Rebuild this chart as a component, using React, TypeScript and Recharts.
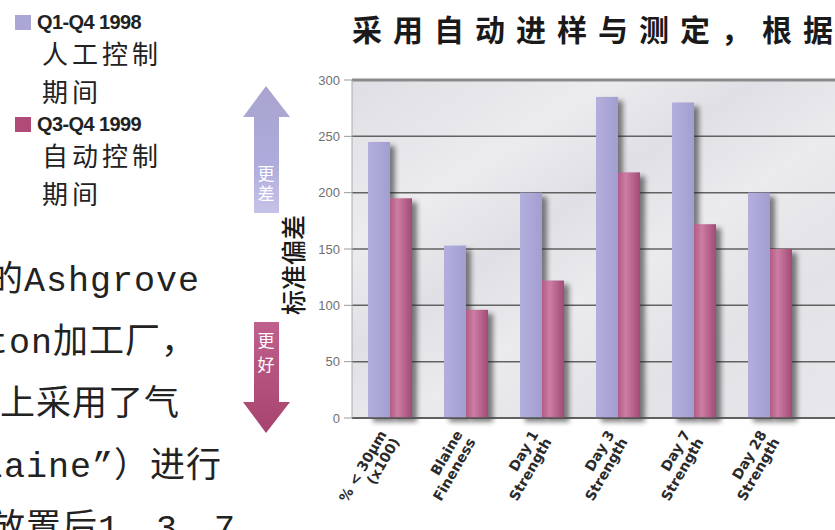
import React from 'react';
import { BarChart, Bar, XAxis, YAxis, CartesianGrid, ReferenceLine } from 'recharts';

// 类别与两组数值
const categories = [
    '% < 30µm\n(x100)',
    'Blaine\nFineness',
    'Day 1\nStrength',
    'Day 3\nStrength',
    'Day 7\nStrength',
    'Day 28\nStrength',
];
const manual1998 = [245, 153, 200, 285, 280, 200];
const auto1999 = [195, 96, 122, 218, 172, 150];
const yTicks = [0, 50, 100, 150, 200, 250, 300];

const legendItems = [
    { key: 'Q1-Q4 1998', lines: ['人工控制', '期间'], color: '#aaa6d6' },
    { key: 'Q3-Q4 1999', lines: ['自动控制', '期间'], color: '#b04a76' },
];

const bodyLines = ['的Ashgrove', 'ton加工厂，', '上采用了气', 'laine”）进行', '放置后1、3、7'];
const bodyOffsets = [-12, -13, 0, -18, -10];

const data = categories.map((name, i) => ({
    name,
    manual: manual1998[i],
    auto: auto1999[i],
}));

const ShadowBar = (props: any) => {
    const { x, y, width, height, fill } = props;
    if (!height || height <= 0) return null;
    return (
        <g>
            <rect
                x={x + 5}
                y={y + 4}
                width={width}
                height={height}
                fill="#1c1c1c"
                opacity={0.55}
                filter="url(#barShadow)"
            />
            <rect x={x} y={y} width={width} height={height} fill={fill} />
        </g>
    );
};

const CategoryTick = (props: any) => {
    const { x, y, payload } = props;
    const [l1, l2] = String(payload.value).split('\n');
    return (
        <g transform={`translate(${x - 3},${y + 16}) rotate(-60)`}>
            <text
                textAnchor="end"
                fontSize={14}
                fontWeight={700}
                fill="#2a2a2a"
                fontFamily="'DejaVu Sans', sans-serif"
            >
                <tspan x={0} dy={0}>{l1}</tspan>
                <tspan x={0} dy={15}>{l2}</tspan>
            </text>
        </g>
    );
};

export default function App() {
    return (
        <div
            style={{
                position: 'fixed',
                left: 0,
                top: 0,
                width: 835,
                height: 530,
                overflow: 'hidden',
                background: '#fff',
                fontFamily: "'Noto Sans CJK SC', sans-serif",
            }}
        >
            <div style={{ position: 'absolute', left: 0, top: 0 }}>
                <BarChart
                    width={900}
                    height={530}
                    data={data}
                    margin={{ top: 80, right: 40, bottom: 0, left: 292 }}
                    barSize={22}
                    barGap={0}
                >
                    <defs>
                        <linearGradient id="plotBg" x1="0" y1="0" x2="1" y2="1">
                            <stop offset="0%" stopColor="#dedee4" />
                            <stop offset="25%" stopColor="#ececef" />
                            <stop offset="40%" stopColor="#dfdfe5" />
                            <stop offset="55%" stopColor="#ebebee" />
                            <stop offset="75%" stopColor="#e2e2e7" />
                            <stop offset="100%" stopColor="#e8e8ec" />
                        </linearGradient>
                        <linearGradient id="pinkBar" x1="0" y1="0" x2="1" y2="0">
                            <stop offset="0%" stopColor="#b25b86" />
                            <stop offset="35%" stopColor="#cc7da3" />
                            <stop offset="100%" stopColor="#a24a76" />
                        </linearGradient>
                        <linearGradient id="lavBar" x1="0" y1="0" x2="1" y2="0">
                            <stop offset="0%" stopColor="#b3afdc" />
                            <stop offset="100%" stopColor="#a29ed1" />
                        </linearGradient>
                        <filter id="barShadow" x="-50%" y="-20%" width="200%" height="140%">
                            <feGaussianBlur stdDeviation="2.5" />
                        </filter>
                    </defs>
                    <CartesianGrid
                        vertical={false}
                        stroke="#626262"
                        strokeWidth={1.5}
                        fill="url(#plotBg)"
                    />
                    <XAxis
                        dataKey="name"
                        interval={0}
                        height={112}
                        tickSize={0}
                        tickMargin={0}
                        tickLine={false}
                        axisLine={{ stroke: '#555', strokeWidth: 1.5 }}
                        padding={{ left: 0, right: 52 }}
                        tick={<CategoryTick />}
                    />
                    <YAxis
                        domain={[0, 300]}
                        ticks={yTicks}
                        width={60}
                        tickSize={8}
                        tickMargin={4}
                        axisLine={{ stroke: '#aaa' }}
                        tickLine={{ stroke: '#999' }}
                        tick={{ fill: '#707070', fontSize: 13, fontFamily: "'Liberation Sans', sans-serif" }}
                    />
                    <ReferenceLine y={300} stroke="#8a8a8a" strokeWidth={3} />
                    <Bar
                        dataKey="manual"
                        fill="url(#lavBar)"
                        shape={<ShadowBar />}
                        isAnimationActive={false}
                    />
                    <Bar
                        dataKey="auto"
                        fill="url(#pinkBar)"
                        shape={<ShadowBar />}
                        isAnimationActive={false}
                    />
                </BarChart>
            </div>

            {/* 标题 */}
            <div
                style={{
                    position: 'absolute',
                    left: 352,
                    top: 6,
                    fontSize: 30,
                    fontWeight: 700,
                    letterSpacing: 11,
                    whiteSpace: 'nowrap',
                    color: '#1a1a1a',
                }}
            >
                采用自动进样与测定，根据
            </div>

            {/* 图例 */}
            {legendItems.map((item, i) => (
                <div key={item.key} style={{ position: 'absolute', left: 15, top: 10 + i * 102 }}>
                    <div style={{ display: 'flex', alignItems: 'center', height: 24 }}>
                        <div style={{ width: 16, height: 15, background: item.color, marginRight: 6 }} />
                        <span
                            style={{
                                fontFamily: "'Liberation Sans', sans-serif",
                                fontWeight: 700,
                                fontSize: 20,
                                letterSpacing: -0.6,
                                color: '#222',
                            }}
                        >
                            {item.key}
                        </span>
                    </div>
                    {item.lines.map((line) => (
                        <div
                            key={line}
                            style={{
                                marginLeft: 27,
                                fontSize: 26,
                                lineHeight: '38px',
                                letterSpacing: 4,
                                color: '#222',
                            }}
                        >
                            {line}
                        </div>
                    ))}
                </div>
            ))}

            {/* 正文 */}
            {bodyLines.map((line, i) => (
                <div
                    key={line}
                    style={{
                        position: 'absolute',
                        left: bodyOffsets[i],
                        top: 252 + i * 62,
                        fontSize: 35,
                        lineHeight: '60px',
                        letterSpacing: 1,
                        whiteSpace: 'nowrap',
                        color: '#222',
                        fontFamily: "'Liberation Mono', 'Noto Sans CJK SC', monospace",
                    }}
                >
                    {line}
                </div>
            ))}

            {/* 箭头 */}
            <svg
                width={835}
                height={530}
                style={{ position: 'absolute', left: 0, top: 0, pointerEvents: 'none' }}
            >
                <defs>
                    <linearGradient id="upArrow" x1="0" y1="0" x2="0" y2="1">
                        <stop offset="0%" stopColor="#a9a5cf" />
                        <stop offset="60%" stopColor="#aeaadb" />
                        <stop offset="100%" stopColor="#c6c3e8" />
                    </linearGradient>
                    <linearGradient id="downArrow" x1="0" y1="0" x2="0" y2="1">
                        <stop offset="0%" stopColor="#c0608c" />
                        <stop offset="100%" stopColor="#a8436f" />
                    </linearGradient>
                </defs>
                <polygon
                    points="266,86 243,117 254,117 254,213 279,213 279,117 290,117"
                    fill="url(#upArrow)"
                />
                <text x={266} y={180} textAnchor="middle" fontSize={17} fill="#fff">更</text>
                <text x={266} y={200} textAnchor="middle" fontSize={17} fill="#fff">差</text>
                <polygon
                    points="254,322 279,322 279,402 290,402 266,433 243,402 254,402"
                    fill="url(#downArrow)"
                />
                <text x={266} y={347} textAnchor="middle" fontSize={17} fill="#fff">更</text>
                <text x={266} y={371} textAnchor="middle" fontSize={17} fill="#fff">好</text>
                <text
                    x={0}
                    y={0}
                    transform="translate(303,265) rotate(-90)"
                    textAnchor="middle"
                    fontSize={25}
                    fontWeight={500}
                    fill="#1a1a1a"
                    fontFamily="'Noto Sans CJK SC', sans-serif"
                >
                    标准偏差
                </text>
            </svg>
        </div>
    );
}
